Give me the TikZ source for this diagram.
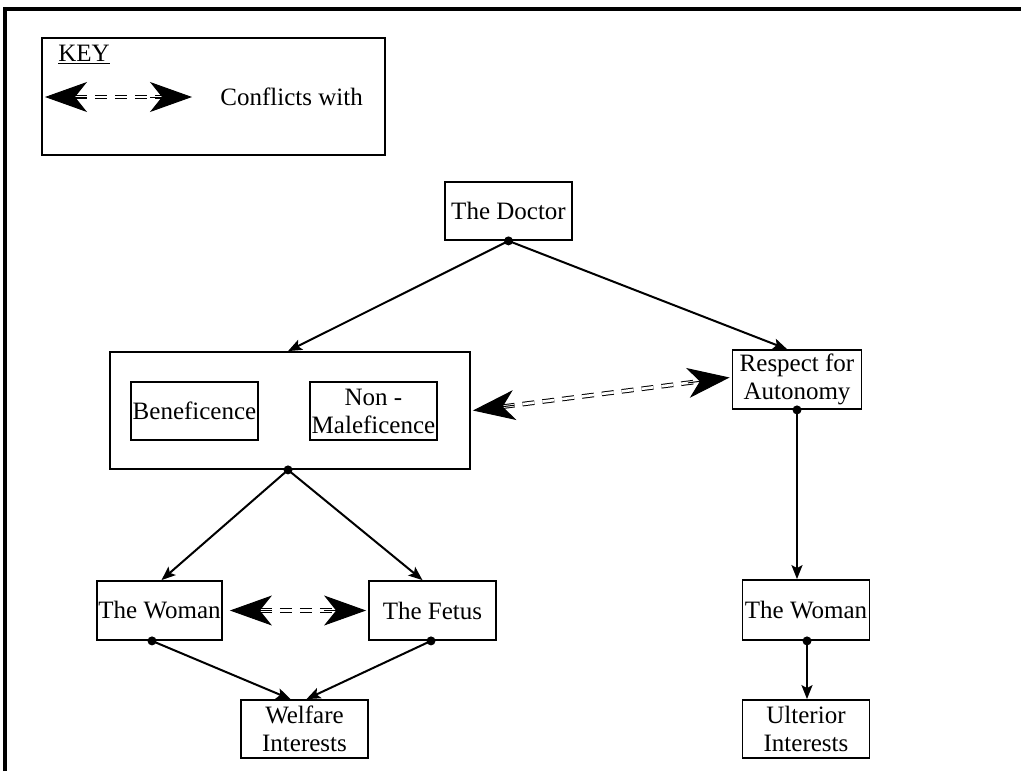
\documentclass[tikz,border=0pt]{standalone}
\usepackage{fontspec}
\setmainfont{Liberation Serif}
\usetikzlibrary{arrows.meta,calc}
\newcommand\conflictarrow[2]{%
  \draw[shaft] ($(#1)!15pt!(#2)$) -- ($(#2)!15pt!(#1)$);
  \draw[bighead] ($(#1)!21pt!(#2)$) -- (#1);
  \draw[bighead] ($(#2)!21pt!(#1)$) -- (#2);
}
\begin{document}
\begin{tikzpicture}[x=0.5pt,y=-0.5pt,
  font=\fontsize{12.5}{14}\selectfont,
  box/.style={draw, line width=0.9pt, inner sep=0pt, align=center},
  conn/.style={line width=1pt, -{Stealth[length=7pt,width=5.5pt,inset=1.5pt]}},
  dot/.style={circle, fill, inner sep=0pt, minimum size=4.5pt},
  bighead/.style={-{Stealth[length=21pt,width=15pt,inset=6pt]}, line width=0.5pt},
  shaft/.style={double, double distance=1.3pt, line width=0.5pt, dash pattern=on 6pt off 4pt}]
\useasboundingbox (0,0) rectangle (1021,771);
% frame
\draw[line width=2pt] (5,771) -- (5,8.5) -- (1021,8.5);
% key
\node[draw, line width=0.9pt, minimum width=171.5pt, minimum height=58.5pt, inner sep=0pt] (key) at (213.5,96.5) {};
\node[anchor=base west, inner sep=0pt] (keytxt) at (58,61) {\underline{KEY}};
\coordinate (kl) at (45,97);
\coordinate (kr) at (192,97);
\conflictarrow{kl}{kr}
\node[anchor=west, inner sep=0pt] (conf) at (220,97) {Conflicts with};
% nodes
\node[box, minimum width=63.5pt, minimum height=29pt] (doctor) at (508.5,211) {The Doctor};
\node[box, minimum width=180pt, minimum height=58.5pt] (big) at (290,410.5) {};
\node[box, minimum width=63.5pt, minimum height=29pt] (benef) at (194.5,411) {Beneficence};
\node[box, minimum width=63.5pt, minimum height=29pt] (nonmal) at (373.5,411) {Non -\\Maleficence};
\node[box, minimum width=64.5pt, minimum height=29.5pt] (respect) at (797,379.5) {Respect for\\Autonomy};
\node[box, minimum width=62.5pt, minimum height=29.5pt] (womanL) at (159.5,610.5) {The Woman};
\node[box, minimum width=63.5pt, minimum height=29.5pt] (fetus) at (432.5,610.5) {The Fetus};
\node[box, minimum width=63.5pt, minimum height=29pt] (welfare) at (304.5,729) {Welfare\\Interests};
\node[box, minimum width=63.5pt, minimum height=30pt] (womanR) at (806,610) {The Woman};
\node[box, minimum width=63.5pt, minimum height=29pt] (ulterior) at (806,729) {Ulterior\\Interests};
% dots
\node[dot] (ddoc) at (doctor.south) {};
\node[dot] (dbig) at ([xshift=-1pt]big.south) {};
\node[dot] (dresp) at (respect.south) {};
\node[dot] (dwl) at ([xshift=-3.75pt]womanL.south) {};
\node[dot] (dfet) at ([xshift=-0.75pt]fetus.south) {};
\node[dot] (dwr) at ([xshift=0.5pt]womanR.south) {};
% connectors
\draw[conn] (ddoc.center) -- ([xshift=-1pt]big.north);
\draw[conn] (ddoc.center) -- ([xshift=-5pt]respect.north);
\draw[conn] (dbig.center) -- ([xshift=1pt]womanL.north);
\draw[conn] (dbig.center) -- ([xshift=-5pt]fetus.north);
\draw[conn] (dwl.center) -- ([xshift=-7pt]welfare.north);
\draw[conn] (dfet.center) -- ([xshift=1pt]welfare.north);
\draw[conn] (dresp.center) -- (dresp.center |- womanR.north);
\draw[conn] (dwr.center) -- (dwr.center |- ulterior.north);
% conflicts
\coordinate (c1) at ([xshift=1pt]big.east);
\coordinate (c2) at ([xshift=-1pt,yshift=1pt]respect.west);
\conflictarrow{c1}{c2}
\coordinate (c3) at ([xshift=3.5pt]womanL.east);
\coordinate (c4) at ([xshift=-1pt]fetus.west);
\conflictarrow{c3}{c4}
\end{tikzpicture}
\end{document}
